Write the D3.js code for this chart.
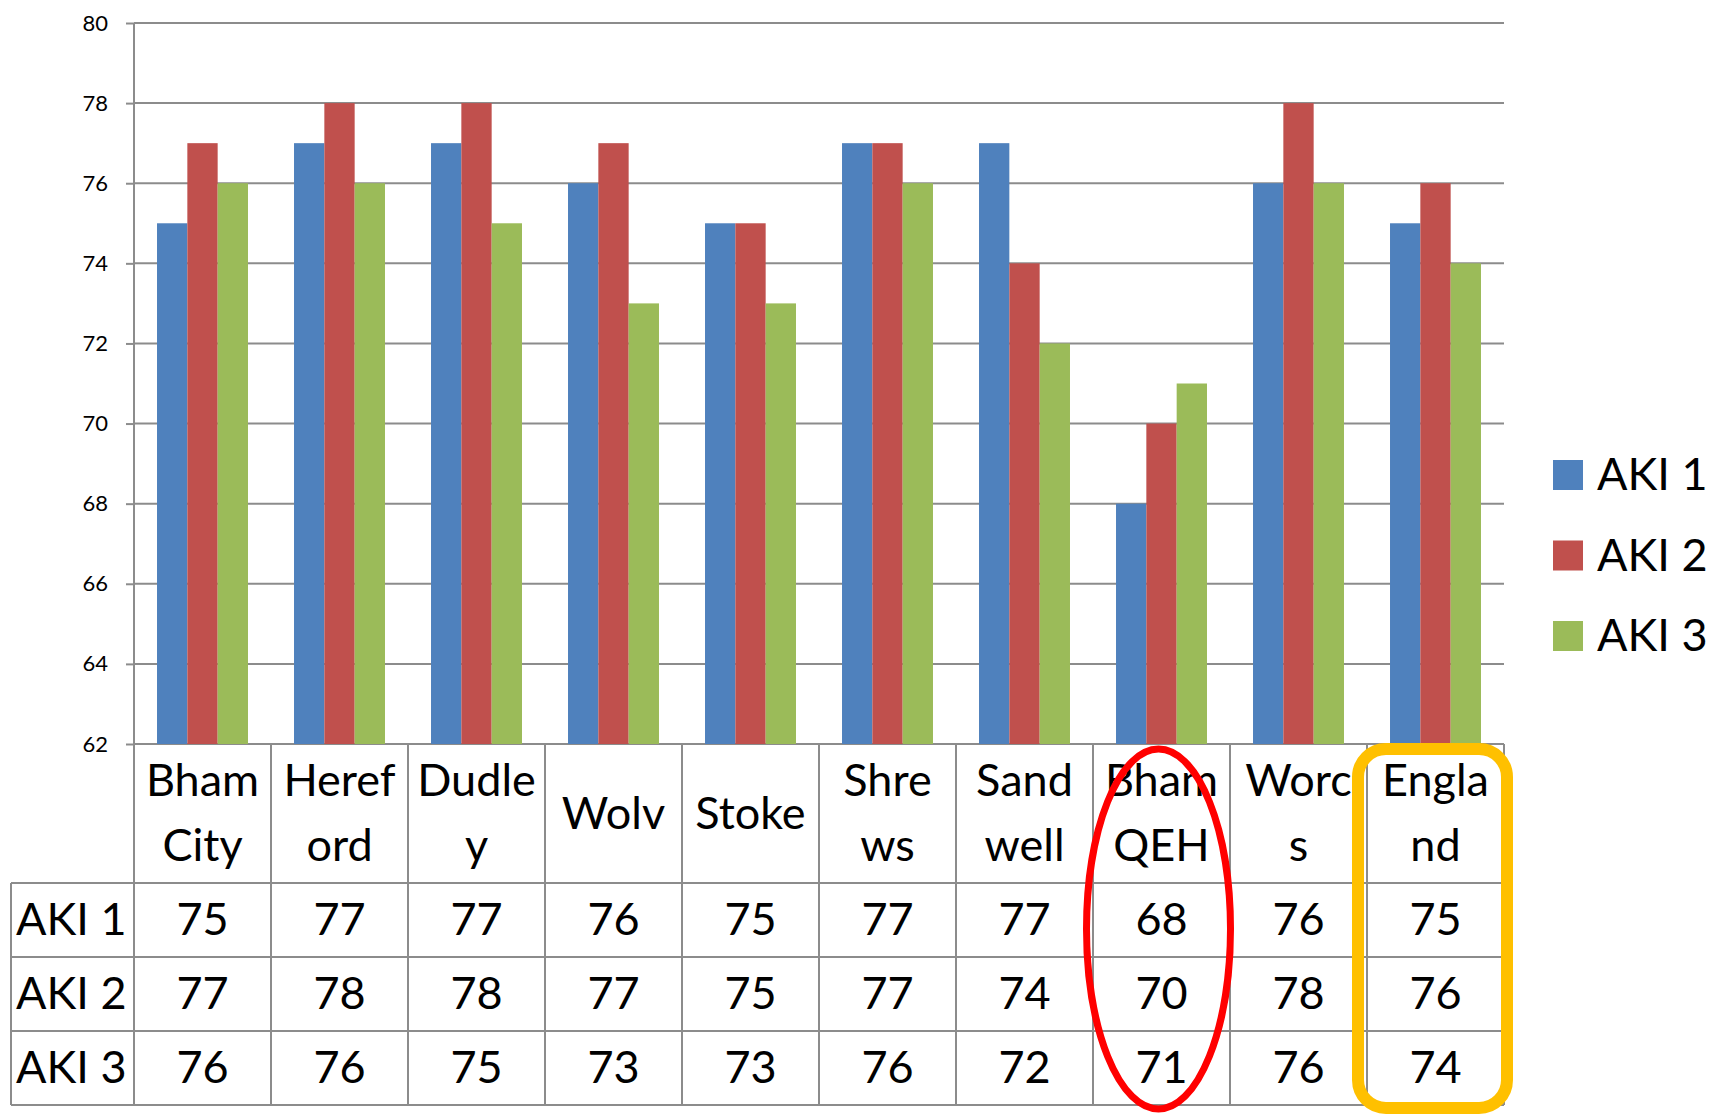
<!DOCTYPE html>
<html>
<head>
<meta charset="utf-8">
<script src="https://cdn.jsdelivr.net/npm/d3@7"></script>
<style>
  html, body { margin: 0; padding: 0; background: #fff; }
  svg { display: block; font-family: Lato, "Open Sans", sans-serif; }
</style>
</head>
<body>
<div id="chart"></div>
<script>
// ---- DATA ----
const categories = ["Bham City", "Hereford", "Dudley", "Wolv", "Stoke", "Shrews", "Sandwell", "Bham QEH", "Worcs", "England"];
// header labels as they wrap in the table
const headerLines = [["Bham", "City"], ["Heref", "ord"], ["Dudle", "y"], ["Wolv"], ["Stoke"], ["Shre", "ws"], ["Sand", "well"], ["Bham", "QEH"], ["Worc", "s"], ["Engla", "nd"]];
const seriesNames = ["AKI 1", "AKI 2", "AKI 3"];
const aki1 = [75, 77, 77, 76, 75, 77, 77, 68, 76, 75];
const aki2 = [77, 78, 78, 77, 75, 77, 74, 70, 78, 76];
const aki3 = [76, 76, 75, 73, 73, 76, 72, 71, 76, 74];
const seriesValues = [aki1, aki2, aki3];
const yTicks = [62, 64, 66, 68, 70, 72, 74, 76, 78, 80];
const colors = ["#4f81bd", "#c0504d", "#9bbb59"];

// ---- LAYOUT ----
const width = 1712, height = 1114;
const plot = { left: 134, right: 1504, top: 23, bottom: 744 };
const table = { left: 11, headerBottom: 883, rowH: 74 };
const gridColor = "#8c8c8c";
const bigFont = 45;

const svg = d3.select("#chart").append("svg")
    .attr("width", width)
    .attr("height", height);

const x = d3.scaleBand()
    .domain(categories)
    .range([plot.left, plot.right])
    .paddingInner(0.336)
    .paddingOuter(0.168);

const xs = d3.scaleBand()
    .domain(seriesNames)
    .range([0, x.bandwidth()]);

const y = d3.scaleLinear()
    .domain([62, 80])
    .range([plot.bottom, plot.top]);

// ---- GRID + Y AXIS ----
const yAxis = d3.axisLeft(y)
    .tickValues(yTicks)
    .tickSize(8)
    .tickPadding(18)
    .tickFormat(d3.format("d"));

const gy = svg.append("g")
    .attr("transform", `translate(${plot.left},0)`)
    .call(yAxis);
gy.select(".domain").remove();
gy.selectAll(".tick line").attr("stroke", gridColor).attr("stroke-width", 2);
gy.selectAll(".tick text")
    .attr("font-size", 22)
    .attr("font-family", "Lato")
    .attr("fill", "#000");

svg.append("g").selectAll("line")
    .data(yTicks)
    .enter()
    .append("line")
    .attr("x1", plot.left)
    .attr("x2", plot.right)
    .attr("y1", d => y(d))
    .attr("y2", d => y(d))
    .attr("stroke", gridColor)
    .attr("stroke-width", 2);

// ---- BARS ----
const groups = svg.append("g").selectAll("g")
    .data(categories)
    .enter()
    .append("g")
    .attr("transform", d => `translate(${x(d)},0)`);

groups.selectAll("rect")
    .data((c, i) => seriesNames.map((s, k) => ({ s, k, v: seriesValues[k][i] })))
    .enter()
    .append("rect")
    .attr("x", d => xs(d.s))
    .attr("width", xs.bandwidth())
    .attr("y", d => y(d.v))
    .attr("height", d => y(62) - y(d.v))
    .attr("fill", d => colors[d.k]);

// ---- TABLE ----
const step = x.step();
const colLeft = i => plot.left + i * step;
const rowTop = r => table.headerBottom + r * table.rowH;
const tableBottom = rowTop(3);
const tg = svg.append("g");

// vertical lines
d3.range(categories.length + 1).forEach(i => {
    tg.append("line")
        .attr("x1", colLeft(i)).attr("x2", colLeft(i))
        .attr("y1", i === 0 ? plot.top : plot.bottom).attr("y2", tableBottom)
        .attr("stroke", gridColor).attr("stroke-width", 2);
});
tg.append("line")
    .attr("x1", table.left).attr("x2", table.left)
    .attr("y1", table.headerBottom).attr("y2", tableBottom)
    .attr("stroke", gridColor).attr("stroke-width", 2);

// horizontal lines
[0, 1, 2, 3].forEach(r => {
    tg.append("line")
        .attr("x1", table.left).attr("x2", plot.right)
        .attr("y1", rowTop(r)).attr("y2", rowTop(r))
        .attr("stroke", gridColor).attr("stroke-width", 2);
});

// header cells, clipped to their cell
const defs = svg.append("defs");
headerLines.forEach((lines, i) => {
    defs.append("clipPath").attr("id", "hc" + i)
        .append("rect")
        .attr("x", colLeft(i) + 1).attr("y", plot.bottom + 1)
        .attr("width", step - 2).attr("height", table.headerBottom - plot.bottom - 2);

    const cx = colLeft(i) + step / 2;
    const midY = (plot.bottom + table.headerBottom) / 2;
    const lineH = 65;
    const cell = tg.append("g").attr("clip-path", `url(#hc${i})`);
    lines.forEach((t, j) => {
        const ty = midY + (j - (lines.length - 1) / 2) * lineH;
        const txt = cell.append("text")
            .attr("x", cx)
            .attr("y", ty)
            .attr("dy", "0.34em")
            .attr("text-anchor", "middle")
            .attr("font-size", bigFont)
            .text(t);
        const w = txt.node().getComputedTextLength();
        if (w > step - 16) {
            txt.attr("text-anchor", "start").attr("x", colLeft(i) + 10);
        }
    });
});

// series rows
seriesNames.forEach((s, r) => {
    const cy = rowTop(r) + table.rowH / 2;
    tg.append("text")
        .attr("x", table.left + 5)
        .attr("y", cy)
        .attr("dy", "0.34em")
        .attr("font-size", bigFont)
        .text(s);
    seriesValues[r].forEach((v, i) => {
        tg.append("text")
            .attr("x", colLeft(i) + step / 2)
            .attr("y", cy)
            .attr("dy", "0.34em")
            .attr("text-anchor", "middle")
            .attr("font-size", bigFont)
            .text(v);
    });
});

// ---- LEGEND ----
const legend = svg.append("g").attr("transform", "translate(1553,460)");
seriesNames.forEach((s, k) => {
    const g = legend.append("g").attr("transform", `translate(0,${k * 80.5})`);
    g.append("rect").attr("width", 30).attr("height", 30).attr("fill", colors[k]);
    g.append("text")
        .attr("x", 44).attr("y", 15)
        .attr("dy", "0.34em")
        .attr("font-size", bigFont)
        .text(s);
});

// ---- ANNOTATIONS ----
const qi = categories.indexOf("Bham QEH");
svg.append("ellipse")
    .attr("cx", colLeft(qi) + step / 2 - 3)
    .attr("cy", 929)
    .attr("rx", 72)
    .attr("ry", 180)
    .attr("fill", "none")
    .attr("stroke", "#ff0000")
    .attr("stroke-width", 7);

const ei = categories.indexOf("England");
svg.append("rect")
    .attr("x", colLeft(ei) - 9)
    .attr("y", 749)
    .attr("width", step + 12)
    .attr("height", 359)
    .attr("rx", 28)
    .attr("fill", "none")
    .attr("stroke", "#ffc000")
    .attr("stroke-width", 12);
</script>
</body>
</html>
